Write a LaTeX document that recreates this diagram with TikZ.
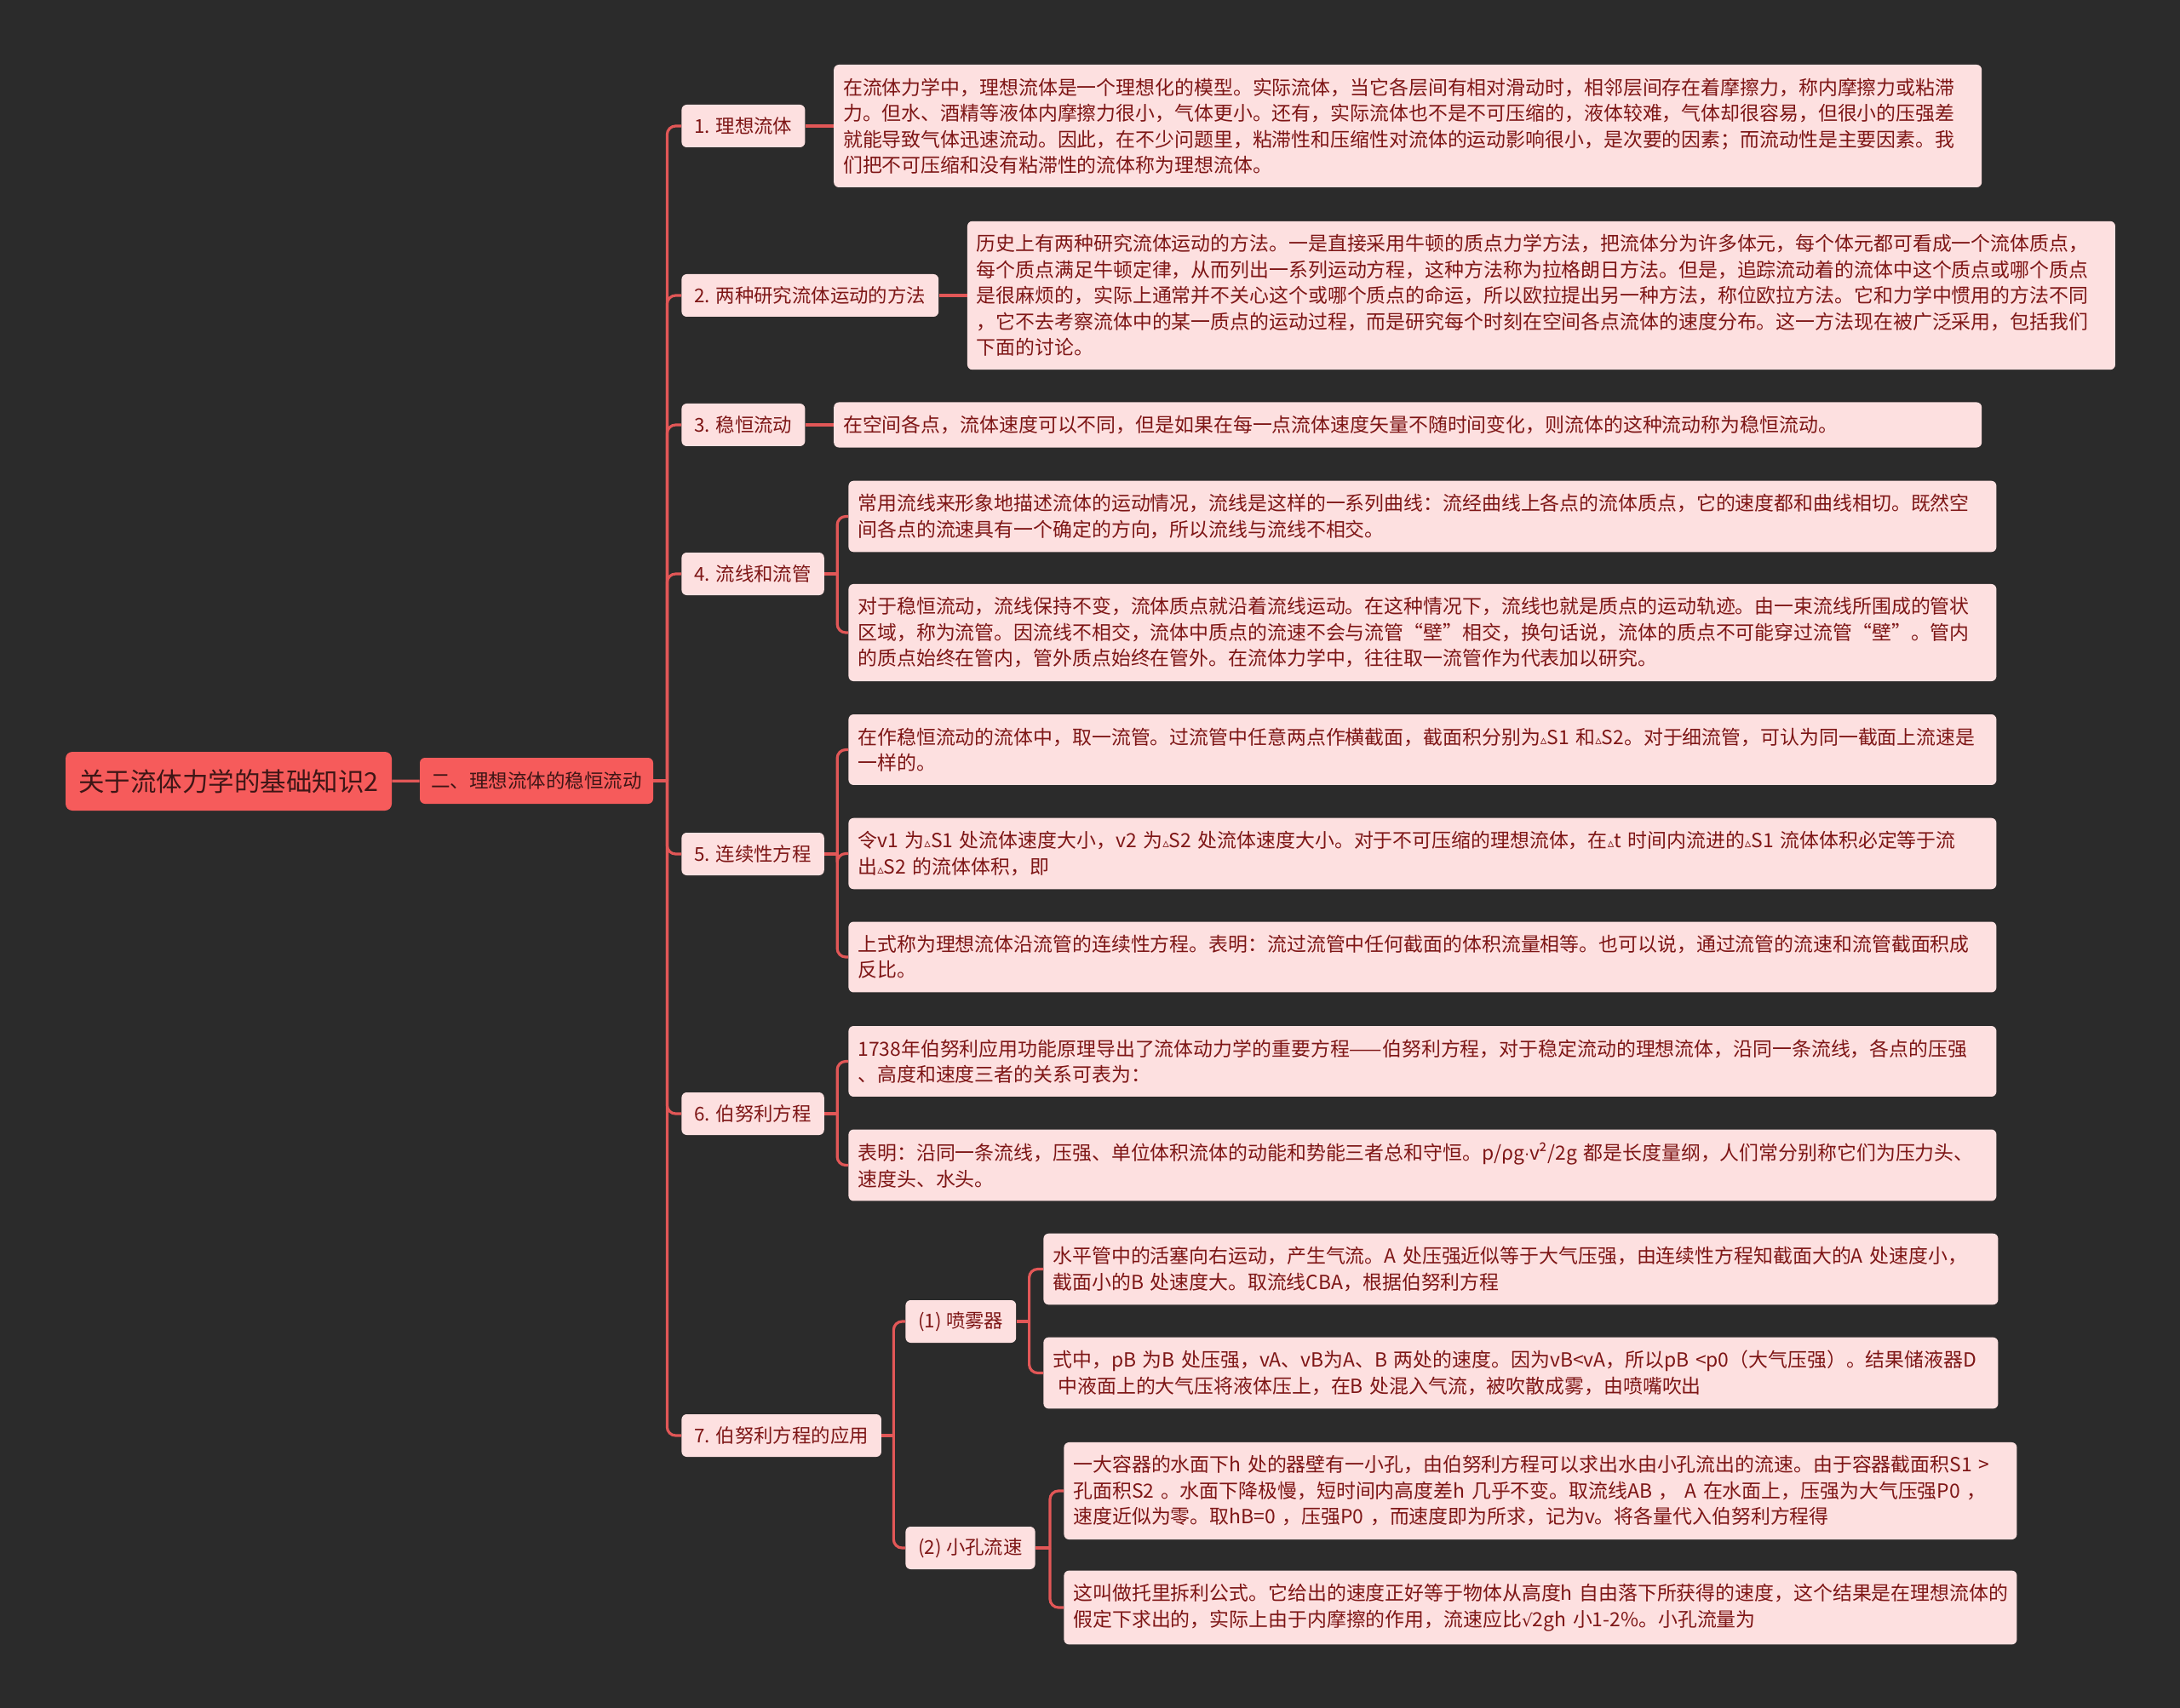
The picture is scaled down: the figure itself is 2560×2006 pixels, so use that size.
\documentclass[tikz,border=0pt]{standalone}
\usepackage{fontspec}
\setmainfont{Noto Sans CJK SC}
\newfontfamily\symfont{DejaVu Sans}
\usepackage{xcolor}
\usepackage{tikz}
\usetikzlibrary{positioning,calc}

\definecolor{bgdark}{HTML}{2B2B2B}
\definecolor{rootred}{HTML}{F65B5B}
\definecolor{rootink}{HTML}{3E1616}
\definecolor{leafpink}{HTML}{FDE0E0}
\definecolor{leafink}{HTML}{7E1616}
\definecolor{wire}{HTML}{E25757}
\newcommand{\tri}{{\symfont\fontsize{7.5pt}{7.5pt}\selectfont ▵}}
\newcommand{\mdot}{{\symfont\fontsize{9pt}{9pt}\selectfont ·}}
\newcommand{\rad}{{\symfont\fontsize{10pt}{10pt}\selectfont √}}

\begin{document}
\begin{tikzpicture}[x=0.5pt,y=-0.5pt,node distance=16.5pt,
  root/.style={rectangle,rounded corners=4pt,fill=rootred,text=rootink,
               minimum width=191.5pt,minimum height=34.5pt,inner sep=0pt,
               font=\fontsize{15.25pt}{18pt}\selectfont},
  topic/.style={rectangle,rounded corners=3pt,fill=rootred,text=rootink,
                minimum width=137pt,minimum height=27pt,inner sep=0pt,
                font=\fontsize{11.25pt}{14pt}\selectfont},
  item/.style={rectangle,rounded corners=3pt,fill=leafpink,text=leafink,anchor=west,
               minimum height=25pt,inner xsep=7.5pt,inner ysep=0pt,
               font=\fontsize{11.2pt}{14pt}\selectfont},
  leaf/.style={rectangle,rounded corners=3pt,fill=leafpink,text=leafink,anchor=west,
               text width=#1,align=left,inner xsep=5.5pt,inner ysep=7.8pt,
               font=\fontsize{11.45pt}{15.25pt}\selectfont},
  leaf/.default=663pt,
  line/.style={draw=wire,line width=1.6pt},
  elbow/.style={line,rounded corners=5pt}]
\fill[bgdark] (0,0) rectangle (2560,2006);

\node[root]  (root) at (268.5,917.5) {关于流体力学的基础知识2};
\node[topic] (sec)  at (630,917) {二、理想流体的稳恒流动};

\node[item] (i1) at (800,148)  {1. 理想流体};
\node[item] (i2) at (800,347)  {2. 两种研究流体运动的方法};
\node[item] (i3) at (800,499)  {3. 稳恒流动};
\node[item] (i4) at (800,674)  {4. 流线和流管};
\node[item] (i5) at (800,1003) {5. 连续性方程};
\node[item] (i6) at (800,1308) {6. 伯努利方程};
\node[item] (i7) at (800,1686) {7. 伯努利方程的应用};
\node[item] (p1) at (1063,1552) {(1) 喷雾器};
\node[item] (p2) at (1063,1818) {(2) 小孔流速};

\node[leaf,right=of i1] (t1) {在流体力学中，理想流体是一个理想化的模型。实际流体，当它各层间有相对滑动时，相邻层间存在着摩擦力，称内摩擦力或粘滞\\
  力。但水、酒精等液体内摩擦力很小，气体更小。还有，实际流体也不是不可压缩的，液体较难，气体却很容易，但很小的压强差\\
  就能导致气体迅速流动。因此，在不少问题里，粘滞性和压缩性对流体的运动影响很小，是次要的因素；而流动性是主要因素。我\\
  们把不可压缩和没有粘滞性的流体称为理想流体。};
\node[leaf,right=of i2] (t2) {历史上有两种研究流体运动的方法。一是直接采用牛顿的质点力学方法，把流体分为许多体元，每个体元都可看成一个流体质点，\\
  每个质点满足牛顿定律，从而列出一系列运动方程，这种方法称为拉格朗日方法。但是，追踪流动着的流体中这个质点或哪个质点\\
  是很麻烦的，实际上通常并不关心这个或哪个质点的命运，所以欧拉提出另一种方法，称位欧拉方法。它和力学中惯用的方法不同\\
  ，它不去考察流体中的某一质点的运动过程，而是研究每个时刻在空间各点流体的速度分布。这一方法现在被广泛采用，包括我们\\
  下面的讨论。};
\node[leaf,right=of i3] (t3) {在空间各点，流体速度可以不同，但是如果在每一点流体速度矢量不随时间变化，则流体的这种流动称为稳恒流动。};

\node[leaf] (t4a) at (996,606.5) {常用流线来形象地描述流体的运动情况，流线是这样的一系列曲线：流经曲线上各点的流体质点，它的速度都和曲线相切。既然空\\
  间各点的流速具有一个确定的方向，所以流线与流线不相交。};
\node[leaf] (t4b) at (996,743) {对于稳恒流动，流线保持不变，流体质点就沿着流线运动。在这种情况下，流线也就是质点的运动轨迹。由一束流线所围成的管状\\
  区域，称为流管。因流线不相交，流体中质点的流速不会与流管“壁”相交，换句话说，流体的质点不可能穿过流管“壁”。管内\\
  的质点始终在管内，管外质点始终在管外。在流体力学中，往往取一流管作为代表加以研究。};

\node[leaf] (t5a) at (996,880.5) {在作稳恒流动的流体中，取一流管。过流管中任意两点作横截面，截面积分别为\tri S1~和\tri S2。对于细流管，可认为同一截面上流速是\\
  一样的。};
\node[leaf] (t5b) at (996,1002.5) {令v1~为\tri S1~处流体速度大小，v2~为\tri S2~处流体速度大小。对于不可压缩的理想流体，在\tri t~时间内流进的\tri S1~流体体积必定等于流\\
  出\tri S2~的流体体积，即};
\node[leaf] (t5c) at (996,1124) {上式称为理想流体沿流管的连续性方程。表明：流过流管中任何截面的体积流量相等。也可以说，通过流管的流速和流管截面积成\\
  反比。};

\node[leaf] (t6a) at (996,1246.5) {1738年伯努利应用功能原理导出了流体动力学的重要方程——伯努利方程，对于稳定流动的理想流体，沿同一条流线，各点的压强\\
  、高度和速度三者的关系可表为：};
\node[leaf] (t6b) at (996,1368.5) {表明：沿同一条流线，压强、单位体积流体的动能和势能三者总和守恒。p/ρg\mdot v²/2g~都是长度量纲，人们常分别称它们为压力头、\\
  速度头、水头。};

\node[leaf=549.5pt] (s1) at (1225,1490.5) {水平管中的活塞向右运动，产生气流。A~处压强近似等于大气压强，由连续性方程知截面大的A~处速度小，\\
  截面小的B~处速度大。取流线CBA，根据伯努利方程};
\node[leaf=549.5pt] (s2) at (1225,1612.5) {式中，pB~为B~处压强，vA、vB为A、B~两处的速度。因为vB<vA，所以pB~<p0（大气压强）。结果储液器D\\
  \hspace*{3pt}中液面上的大气压将液体压上，在B~处混入气流，被吹散成雾，由喷嘴吹出};

\node[leaf=548.5pt] (h1) at (1249,1751) {一大容器的水面下h~处的器壁有一小孔，由伯努利方程可以求出水由小孔流出的流速。由于容器截面积S1~>\\
  孔面积S2~。水面下降极慢，短时间内高度差h~几乎不变。取流线AB~，~A~在水面上，压强为大气压强P0~，\\
  速度近似为零。取hB=0~，压强P0~，而速度即为所求，记为v。将各量代入伯努利方程得};
\node[leaf=548.5pt] (h2) at (1249,1888) {这叫做托里拆利公式。它给出的速度正好等于物体从高度h~自由落下所获得的速度，这个结果是在理想流体的\\
  假定下求出的，实际上由于内摩擦的作用，流速应比\rad 2gh~小1-2\%。小孔流量为};

\path[line] (root) -- (sec);
\path[line] (sec.east) -- ++(16,0) coordinate (trunk);
\foreach \n in {i1,i2,i3,i4,i5,i6,i7}
  \path[elbow] (trunk) |- (\n.west);

\path[line] (i1) -- (t1);
\path[line] (i2) -- (t2);
\path[line] (i3) -- (t3);

% brackets fanning out to several boxes
\path[line] (i4.east) -- ++(15,0) coordinate (b4);
\foreach \t in {t4a,t4b} \path[elbow] (b4) |- (\t.west);
\path[line] (i5.east) -- ++(15,0) coordinate (b5);
\foreach \t in {t5a,t5b,t5c} \path[elbow] (b5) |- (\t.west);
\path[line] (i6.east) -- ++(15,0) coordinate (b6);
\foreach \t in {t6a,t6b} \path[elbow] (b6) |- (\t.west);
\path[line] (i7.east) -- ++(14,0) coordinate (b7);
\foreach \t in {p1,p2} \path[elbow] (b7) |- (\t.west);
\path[line] (p1.east) -- ++(15,0) coordinate (bs);
\foreach \t in {s1,s2} \path[elbow] (bs) |- (\t.west);
\path[line] (p2.east) -- ++(17,0) coordinate (bh);
\foreach \t in {h1,h2} \path[elbow] (bh) |- (\t.west);
\end{tikzpicture}
\end{document}
